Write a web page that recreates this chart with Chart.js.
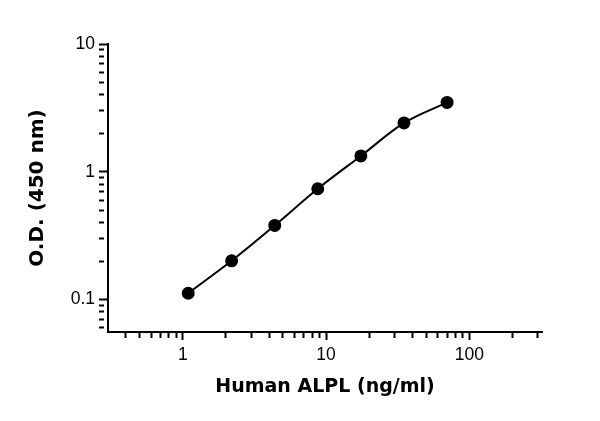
<!DOCTYPE html>
<html>
<head>
<meta charset="utf-8">
<script src="https://cdn.jsdelivr.net/npm/chart.js@4"></script>
<style>
  body { margin: 0; background: #fff; }
  #wrap { width: 600px; height: 421px; }
</style>
</head>
<body>
<div id="wrap"><canvas id="std_curve"></canvas></div>
<script>
// standard curve data
const conc_values = [1.09, 2.19, 4.38, 8.75, 17.5, 35, 70];
const od_values = [0.112, 0.201, 0.38, 0.736, 1.33, 2.41, 3.49];

// tick positions
const x_ticks = [0.4, 0.5, 0.6, 0.7, 0.8, 0.9, 1, 2, 3, 4, 5, 6, 7, 8, 9,
    10, 20, 30, 40, 50, 60, 70, 80, 90, 100, 200, 300];
const x_major = [1, 10, 100];
const y_ticks = [0.06, 0.07, 0.08, 0.09, 0.1, 0.2, 0.3, 0.4, 0.5, 0.6, 0.7, 0.8, 0.9,
    1, 2, 3, 4, 5, 6, 7, 8, 9, 10];
const y_major = [0.1, 1, 10];

const ctx = document.getElementById('std_curve').getContext('2d');

const points = conc_values.map((x, i) => ({ x: x, y: od_values[i] }));

// minor ticks are drawn shorter by dashing them
function tickDash(majors) {
    return (c) => (c.tick && majors.includes(c.tick.value)) ? [] : [5, 40];
}

const tick_font = { family: 'Liberation Sans, Arial, sans-serif', size: 17.5 };
const title_font = { family: 'DejaVu Sans, sans-serif', size: 20, weight: 'bold' };

new Chart(ctx, {
    type: 'line',
    data: {
        datasets: [{
            label: 'Human ALPL',
            data: points,
            borderColor: '#000',
            backgroundColor: '#000',
            borderWidth: 2,
            pointRadius: 5.5,
            pointHoverRadius: 5.5,
            cubicInterpolationMode: 'monotone',
            fill: false
        }]
    },
    options: {
        responsive: true,
        maintainAspectRatio: false,
        animation: false,
        layout: { padding: { left: 0, right: 58, top: 44, bottom: 0 } },
        plugins: { legend: { display: false }, tooltip: { enabled: false } },
        scales: {
            x: {
                type: 'logarithmic',
                min: 0.323,
                max: 322,
                afterBuildTicks: (scale) => {
                    scale.ticks = x_ticks.map(v => ({ value: v }));
                },
                afterFit: (scale) => { scale.height = 89; },
                grid: {
                    drawOnChartArea: false,
                    drawTicks: true,
                    tickLength: 8,
                    tickWidth: 2,
                    tickColor: '#000',
                    tickBorderDash: tickDash(x_major)
                },
                border: { display: true, color: '#000', width: 2 },
                ticks: {
                    autoSkip: false,
                    maxRotation: 0,
                    padding: 5,
                    color: '#000',
                    font: tick_font,
                    callback: (v) => x_major.includes(v) ? String(v) : ''
                },
                title: {
                    display: true,
                    text: 'Human ALPL (ng/ml)',
                    color: '#000',
                    font: { family: title_font.family, size: 19, weight: 'bold' },
                    padding: { top: 0, bottom: 23 }
                }
            },
            y: {
                type: 'logarithmic',
                min: 0.0557,
                max: 10,
                afterBuildTicks: (scale) => {
                    scale.ticks = y_ticks.map(v => ({ value: v }));
                },
                afterFit: (scale) => { scale.width = 108; },
                grid: {
                    drawOnChartArea: false,
                    drawTicks: true,
                    tickLength: 9,
                    tickWidth: 2,
                    tickColor: '#000',
                    tickBorderDash: tickDash(y_major)
                },
                border: { display: true, color: '#000', width: 2 },
                ticks: {
                    autoSkip: false,
                    padding: 4,
                    color: '#000',
                    font: tick_font,
                    callback: (v) => y_major.includes(v) ? String(v) : ''
                },
                title: {
                    display: true,
                    text: 'O.D. (450 nm)',
                    color: '#000',
                    font: title_font,
                    padding: { top: 26, bottom: 0 }
                }
            }
        }
    }
});
</script>
</body>
</html>
